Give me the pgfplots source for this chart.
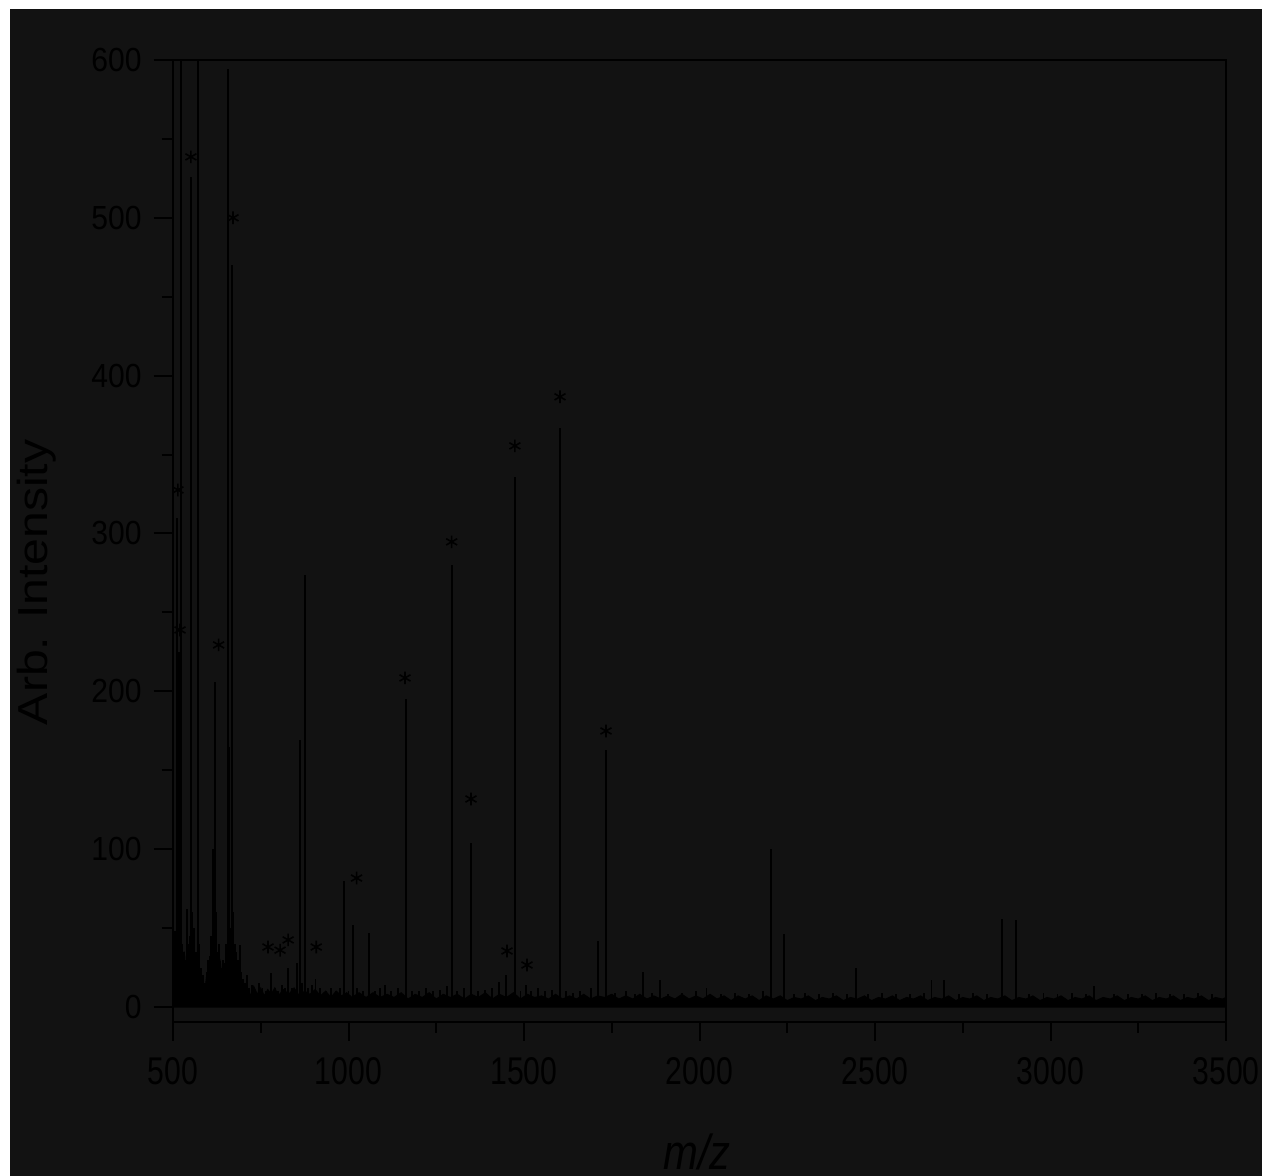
\documentclass[border=0pt]{standalone}
\usepackage{fontspec}
\setmainfont{Liberation Sans}
\newfontfamily\condfont{Liberation Sans}[FakeStretch=0.9]
\newfontfamily\xcondfont{Liberation Sans}[FakeStretch=0.78]
\newfontfamily\labfont{Liberation Sans}[FakeStretch=0.85]
\usepackage{graphicx}
\usepackage{pgfplots}
\pgfplotsset{compat=1.18}
\definecolor{bgdark}{RGB}{18,18,18}

\pgfplotstableread{
mz inten
505 48
508 35
511 310
514 60
518 225
521 30
524 620
527 40
532 35
537 30
541 62
545 40
548 45
551 526
555 60
560 50
565 35
570 620
574 40
580 25
585 20
590 15
596 22
600 30
604 32
608 45
614 100
619 206
622 60
627 35
632 40
637 25
642 30
647 28
652 40
656 594
660 165
664 50
668 470
672 60
676 40
680 35
685 30
690 39
695 22
700 18
705 15
710 20
717 12
725 14
735 10
745 15
755 12
765 10
779 21.5
790 12
800 10
810 14
820 12
828 25
840 12
852 28
862 169
868 15
876 274
885 12
895 14
906 18
920 12
935 10
950 12
965 10
975 12
987 80
1000 10
1013 52
1025 12
1040 10
1058 47
1075 10
1090 12
1105 14
1120 10
1140 12
1164 195
1180 10
1200 10
1220 12
1240 10
1260 11
1280 13
1296 280
1310 10
1330 12
1349 104
1370 10
1390 11
1410 12
1429 16
1450 20
1474 336
1490 10
1505 14
1520 10
1540 12
1560 10
1580 11
1603 367
1620 10
1640 9
1660 10
1690 12
1711 42
1734 163
1760 9
1790 10
1815 8
1839 22
1865 9
1888 17
1910 8
1950 9
1990 10
2020 12
2060 8
2100 9
2140 8
2180 10
2204 100
2241 46
2270 8
2300 9
2340 8
2380 9
2420 8
2446 25
2480 8
2520 9
2560 8
2600 8
2640 9
2661 17
2697 17
2740 8
2780 9
2820 8
2862 56
2903 55
2940 8
2980 9
3020 8
3060 9
3100 8
3124 13
3180 8
3220 8
3260 8
3300 9
3340 8
3380 8
3420 9
3460 8
}\peaks

\pgfplotstableread{
mz inten
500 0
500 45
504 30
508 48
512 25
516 40
520 22
524 38
528 20
532 35
536 18
540 42
544 22
548 38
552 20
556 30
560 14
565 20
570 10
575 16
580 8
585 14
590 9
595 18
600 12
605 28
610 20
615 35
620 18
625 30
630 22
635 28
640 15
645 25
650 12
655 20
660 10
665 18
670 12
675 22
680 9
685 16
690 8
695 14
700 9
710 12
720 7
730 13
740 8
750 12
760 7
770 11
780 8
790 12
800 7
815 11
830 8
845 12
860 7
875 10
890 8
905 11
920 7
935 10
950 6
965 10
980 7
995 9
1010 6
1030 9
1050 6
1070 9
1090 6
1110 8
1130 6
1150 9
1170 5
1190 8
1210 6
1230 9
1250 5
1270 8
1290 6
1310 8
1330 5
1350 8
1370 6
1390 9
1410 5
1430 8
1450 6
1470 9
1490 5
1510 8
1530 6
1550 7
1570 5
1590 8
1610 5
1630 7
1650 5
1670 8
1690 5
1710 7
1730 6
1750 8
1770 5
1790 7
1810 5
1830 8
1850 5
1870 7
1890 5
1910 7
1930 5
1950 8
1970 5
1990 7
2010 5
2030 8
2050 5
2070 7
2090 4
2110 7
2130 5
2150 7
2170 4
2190 7
2210 5
2230 7
2250 4
2270 6
2290 5
2310 7
2330 4
2350 6
2370 5
2390 7
2410 4
2430 6
2450 5
2470 7
2490 4
2510 6
2530 5
2550 7
2570 4
2590 6
2610 5
2630 7
2650 4
2670 6
2690 5
2710 7
2730 4
2750 6
2770 5
2790 7
2810 4
2830 6
2850 5
2870 7
2890 4
2910 6
2930 5
2950 7
2970 4
2990 6
3010 5
3030 7
3050 4
3070 6
3090 5
3110 7
3130 4
3150 6
3170 5
3190 7
3210 4
3230 6
3250 5
3270 7
3290 4
3310 6
3330 5
3350 7
3370 4
3390 6
3410 5
3430 7
3450 4
3470 6
3490 5
3500 6
3500 0
}\noise

\pgfplotstableread{
mz inten
514 327.6
520 238.9
551 538.6
671 500
630 229.4
770.7 38
805 36
828 42.5
908 38
1023 81.7
1161 208.5
1294 294.7
1349 131.8
1474 355.5
1451.6 35.5
1508.5 26.6
1602.6 386.6
1733.6 174.9
}\stars

\begin{document}
\begin{tikzpicture}
\fill[white] (0,0) rectangle (12.62cm,11.76cm);
\fill[bgdark] (0.10cm,0) rectangle (12.62cm,11.67cm);
\path[use as bounding box] (0,0) rectangle (12.62cm,11.76cm);
\begin{axis}[
  at={(1.73cm,1.54cm)}, anchor=south west,
  scale only axis, width=10.53cm, height=9.62cm,
  xmin=500, xmax=3500, ymin=-9.5, ymax=600,
  xtick={500,1000,...,3500}, ytick={0,100,...,600},
  minor x tick num=1, minor y tick num=1,
  tick align=outside, tick pos=left,
  major tick length=1.9mm, minor tick length=1.1mm,
  axis line style={line width=0.2mm, black},
  tick style={line width=0.2mm, black},
  /pgf/number format/assume math mode=true,
  /pgf/number format/set thousands separator={},
  yticklabel style={font=\condfont\fontsize{9.5}{11}\selectfont, black},
  xticklabel style={font=\xcondfont\fontsize{11}{13}\selectfont, black, yshift=-0.4mm},
  xlabel={\labfont\fontsize{14}{16}\selectfont\itshape m/z},
  ylabel={\scalebox{1}[0.87]{\fontsize{13.7}{16}\selectfont Arb. Intensity}},
  xlabel style={at={(axis description cs:0.4976,-0.135)}, anchor=center, black},
  ylabel style={at={(axis description cs:-0.129,0.457)}, anchor=center, black},
]
\addplot[fill=black, draw=black, line width=0.3pt] table[x=mz, y=inten] {\noise} \closedcycle;
\addplot[ycomb, black, line width=0.55pt, mark=none] table[x=mz, y=inten] {\peaks};
\addplot[only marks, mark=asterisk, mark size=1.8pt, black, line width=0.45pt] table[x=mz, y=inten] {\stars};
\end{axis}
\end{tikzpicture}
\end{document}
